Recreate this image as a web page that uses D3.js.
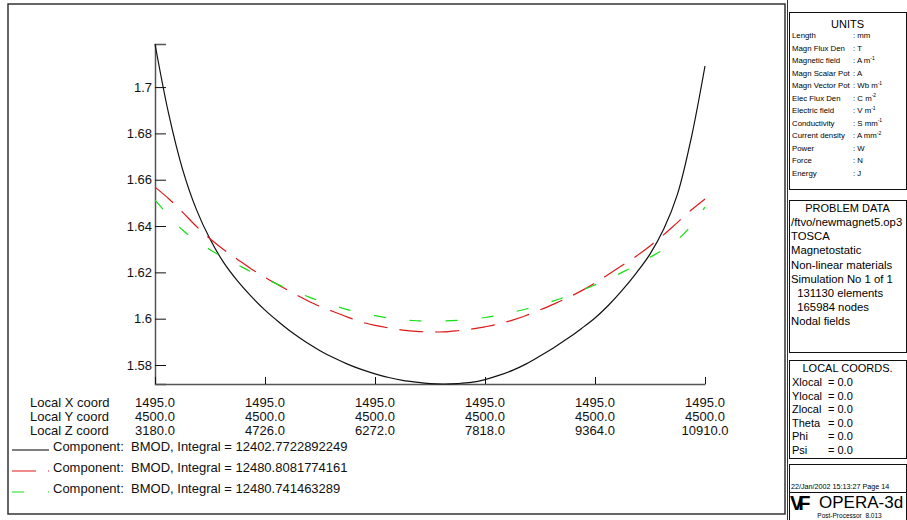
<!DOCTYPE html>
<html>
<head>
<meta charset="utf-8">
<script src="https://cdn.jsdelivr.net/npm/d3@7"></script>
<style>
  html, body { margin: 0; padding: 0; background: #fff; }
  svg { display: block; font-family: "Liberation Sans", Arial, sans-serif; }
  text { white-space: pre; }
</style>
</head>
<body>
<svg id="chart" width="907" height="520"></svg>
<script>
// Sample positions along the line (local Z coordinate, mm)
const zStart = 3180, zEnd = 10910, nSamples = 41;
const zSamples = d3.range(nSamples).map(i => zStart + i * (zEnd - zStart) / (nSamples - 1));

// BMOD values (T) along the line for the three components
const bmodBlack = [1.7186, 1.6883, 1.6646, 1.6473, 1.6344, 1.6242, 1.6163, 1.6096, 1.6037, 1.5986,
  1.5939, 1.5898, 1.5862, 1.5831, 1.5804, 1.5781, 1.5762, 1.5746, 1.5734, 1.5726,
  1.5720, 1.5718, 1.5720, 1.5725, 1.5737, 1.5755, 1.5777, 1.5805, 1.5839, 1.5875,
  1.5914, 1.5957, 1.6003, 1.6059, 1.6124, 1.6197, 1.6279, 1.6387, 1.6538, 1.6780, 1.7091];
const bmodRed = [1.6568, 1.6518, 1.6460, 1.6399, 1.6345, 1.6298, 1.6256, 1.6215, 1.6178, 1.6145,
  1.6112, 1.6081, 1.6053, 1.6030, 1.6007, 1.5986, 1.5971, 1.5960, 1.5951, 1.5945,
  1.5943, 1.5943, 1.5948, 1.5955, 1.5965, 1.5977, 1.5994, 1.6014, 1.6038, 1.6063,
  1.6090, 1.6120, 1.6154, 1.6192, 1.6231, 1.6270, 1.6314, 1.6363, 1.6416, 1.6469, 1.6517];
const bmodGreen = [1.6512, 1.6445, 1.6383, 1.6337, 1.6298, 1.6264, 1.6233, 1.6202, 1.6174, 1.6146,
  1.6121, 1.6098, 1.6076, 1.6057, 1.6039, 1.6025, 1.6013, 1.6003, 1.5995, 1.5991,
  1.5989, 1.5990, 1.5993, 1.5998, 1.6005, 1.6015, 1.6028, 1.6042, 1.6059, 1.6077,
  1.6098, 1.6121, 1.6146, 1.6172, 1.6201, 1.6232, 1.6265, 1.6299, 1.6341, 1.6402, 1.6482];

// Axis tick values and label rows
const yTicks = [1.58, 1.6, 1.62, 1.64, 1.66, 1.68, 1.7];
const xTickZ = [3180, 4726, 6272, 7818, 9364, 10910];
const xTickXLabels = ["1495.0", "1495.0", "1495.0", "1495.0", "1495.0", "1495.0"];
const xTickYLabels = ["4500.0", "4500.0", "4500.0", "4500.0", "4500.0", "4500.0"];
const xTickZLabels = ["3180.0", "4726.0", "6272.0", "7818.0", "9364.0", "10910.0"];
const rowNames = ["Local X coord", "Local Y coord", "Local Z coord"];

// Legend entries
const legendTexts = [
  "Component:  BMOD, Integral = 12402.7722892249",
  "Component:  BMOD, Integral = 12480.8081774161",
  "Component:  BMOD, Integral = 12480.741463289"
];

// Side panel contents
const unitNames = ["Length", "Magn Flux Den", "Magnetic field", "Magn Scalar Pot", "Magn Vector Pot",
  "Elec Flux Den", "Electric field", "Conductivity", "Current density", "Power", "Force", "Energy"];
const unitValues = [": mm", ": T", ": A m", ": A", ": Wb m", ": C m", ": V m", ": S mm", ": A mm", ": W", ": N", ": J"];
const unitExps = ["", "", "-1", "", "-1", "-2", "-1", "-1", "-2", "", "", ""];
const problemLines = ["/ftvo/newmagnet5.op3", "TOSCA", "Magnetostatic", "Non-linear materials",
  "Simulation No 1 of 1", "  131130 elements", "  165984 nodes", "Nodal fields"];
const coordNames = ["Xlocal", "Ylocal", "Zlocal", "Theta", "Phi", "Psi"];
const coordValues = ["= 0.0", "= 0.0", "= 0.0", "= 0.0", "= 0.0", "= 0.0"];
const stampText = "22/Jan/2002 15:13:27 Page 14";

const svg = d3.select("#chart");

// ---- outer frames ----
svg.append("rect").attr("x", 8).attr("y", 4).attr("width", 777).attr("height", 510)
  .attr("fill", "none").attr("stroke", "#333").attr("stroke-width", 1.5);
svg.append("line").attr("x1", 787.5).attr("x2", 787.5).attr("y1", 0).attr("y2", 520)
  .attr("stroke", "#333").attr("stroke-width", 1);

// ---- scales ----
const x = d3.scaleLinear().domain([zStart, zEnd]).range([155, 705]);
const y = d3.scaleLinear().domain(d3.extent(bmodBlack)).range([384, 44]);

// ---- axes ----
const yAxis = d3.axisLeft(y).tickValues(yTicks).tickSize(-11).tickPadding(3)
  .tickFormat(d => String(+d.toFixed(2)));
const gy = svg.append("g").attr("transform", "translate(155,0)").call(yAxis);
gy.selectAll("text").attr("font-size", 13).attr("font-family", "Liberation Sans, Arial, sans-serif").attr("fill", "#111");
gy.selectAll(".tick line").attr("stroke", "#111");
gy.select(".domain").attr("stroke", "#555").attr("stroke-width", 1.5);

const xAxis = d3.axisBottom(x).tickValues(xTickZ).tickSize(-7).tickSizeOuter(0).tickFormat("");
const gx = svg.append("g").attr("transform", "translate(0,384)").call(xAxis);
gx.selectAll(".tick line").attr("stroke", "#111");
gx.select(".domain").attr("stroke", "#555").attr("stroke-width", 1.5);

// three rows of coordinate labels under the axis
const rows = [xTickXLabels, xTickYLabels, xTickZLabels];
const rowY = [407, 421, 435];
rows.forEach((labels, r) => {
  svg.append("text").attr("x", 30).attr("y", rowY[r]).attr("font-size", 13).attr("fill", "#111")
    .text(rowNames[r]);
  svg.append("g").selectAll("text").data(xTickZ).join("text")
    .attr("x", d => x(d)).attr("y", rowY[r]).attr("text-anchor", "middle")
    .attr("font-size", 13).attr("fill", "#111")
    .text((d, i) => labels[i]);
});

// ---- curves ----
const series = [
  { values: bmodBlack, color: "#111", dash: null },
  { values: bmodRed, color: "#dd1a1a", dash: "24,12" },
  { values: bmodGreen, color: "#14e014", dash: "12,24" }
];
const line = d3.line().x((d, i) => x(zSamples[i])).y(d => y(d)).curve(d3.curveCatmullRom);
series.forEach(s => {
  svg.append("path").attr("d", line(s.values)).attr("fill", "none")
    .attr("stroke", s.color).attr("stroke-width", 1.2)
    .attr("stroke-dasharray", s.dash);
});

// ---- legend ----
const legY = [450, 471, 492];
series.forEach((s, i) => {
  svg.append("line").attr("x1", 12).attr("x2", 49).attr("y1", legY[i]).attr("y2", legY[i])
    .attr("stroke", i === 0 ? "#555" : s.color).attr("stroke-width", i === 0 ? 1.5 : 1.2)
    .attr("stroke-dasharray", s.dash);
  svg.append("text").attr("x", 53).attr("y", legY[i] + 1).attr("font-size", 13).attr("fill", "#111")
    .text(legendTexts[i]);
});

// ---- side panel ----
const px = 789, pw = 117;
function box(y0, h) {
  svg.append("rect").attr("x", px + 0.5).attr("y", y0 + 0.5).attr("width", pw).attr("height", h)
    .attr("fill", "none").attr("stroke", "#111").attr("stroke-width", 1);
}
// UNITS
box(12, 177);
svg.append("text").attr("x", px + pw / 2).attr("y", 28).attr("text-anchor", "middle")
  .attr("font-size", 11).text("UNITS");
unitNames.forEach((n, i) => {
  const yy = 38 + i * 12.5;
  svg.append("text").attr("x", px + 3).attr("y", yy).attr("font-size", 7.8).text(n);
  const t = svg.append("text").attr("x", px + 64).attr("y", yy).attr("font-size", 7.8).text(unitValues[i]);
  if (unitExps[i]) {
    t.append("tspan").attr("font-size", 5).attr("dy", -3.5).text(unitExps[i]);
  }
});
// PROBLEM DATA
box(200, 152);
svg.append("text").attr("x", px + pw / 2).attr("y", 212).attr("text-anchor", "middle")
  .attr("font-size", 11).text("PROBLEM DATA");
problemLines.forEach((l, i) => {
  svg.append("text").attr("x", px + 2).attr("y", 226 + i * 14.2).attr("font-size", 11.3).text(l);
});
// LOCAL COORDS
box(360, 98);
svg.append("text").attr("x", px + pw / 2).attr("y", 372).attr("text-anchor", "middle")
  .attr("font-size", 11).text("LOCAL COORDS.");
coordNames.forEach((n, i) => {
  const yy = 386 + i * 13.6;
  svg.append("text").attr("x", px + 3).attr("y", yy).attr("font-size", 11).text(n);
  svg.append("text").attr("x", px + 39).attr("y", yy).attr("font-size", 11).text(coordValues[i]);
});
// stamp + logo
box(464, 60);
svg.append("line").attr("x1", px).attr("x2", px + pw).attr("y1", 492.5).attr("y2", 492.5)
  .attr("stroke", "#111");
svg.append("text").attr("x", px + 2).attr("y", 489).attr("font-size", 7.2).text(stampText);
svg.append("text").attr("x", px + 1).attr("y", 510).attr("font-size", 20).attr("font-weight", "bold")
  .attr("letter-spacing", -5).text("VF");
svg.append("text").attr("x", px + 30).attr("y", 508).attr("font-size", 17).text("OPERA-3d");
svg.append("text").attr("x", px + pw / 2 + 2).attr("y", 518).attr("text-anchor", "middle")
  .attr("font-size", 6.5).text("Post-Processor  8.013");
</script>
</body>
</html>
